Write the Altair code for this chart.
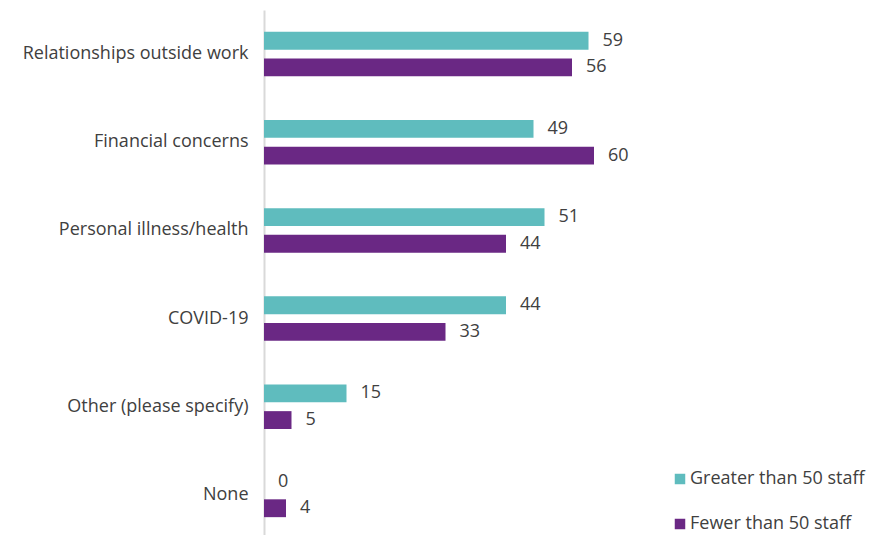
import altair as alt
import pandas as pd

categories = ["Relationships outside work", "Financial concerns", "Personal illness/health",
              "COVID-19\u00a0", "Other (please specify)", "None"]
series = ["Greater than 50 staff", "Fewer than 50 staff"]
greater = [59, 49, 51, 44, 15, 0]
fewer = [56, 60, 44, 33, 5, 4]
colors = ["#5fbcbe", "#6a2884"]

rows = []
for c, g, f in zip(categories, greater, fewer):
    rows.append({"cat": c, "series": series[0], "value": g})
    rows.append({"cat": c, "series": series[1], "value": f})
df = pd.DataFrame(rows)

FONT = "Open Sans"
TXT = "#404040"
FS = 18

y = alt.Y("cat:N", sort=categories, title=None,
          scale=alt.Scale(paddingInner=0, paddingOuter=0, range=[0, 529]),
          axis=alt.Axis(domainColor="#d9d9d9", domainWidth=2, ticks=False,
                        labelFontSize=FS, labelColor=TXT, labelFont=FONT,
                        labelPadding=16, labelLimit=300))
yoff = alt.YOffset("series:N", sort=series,
                   scale=alt.Scale(domain=series, paddingInner=0.33, paddingOuter=0.82))
x = alt.X("value:Q", scale=alt.Scale(domain=[0, 100]), axis=None)

bars = alt.Chart(df).mark_bar().encode(
    y=y, yOffset=yoff, x=x,
    color=alt.Color("series:N", sort=series,
                    scale=alt.Scale(domain=series, range=colors),
                    legend=alt.Legend(orient="none", legendX=407, legendY=460, title=None,
                                      symbolType="square", symbolSize=110,
                                      labelFontSize=FS, labelFont=FONT, labelColor=TXT,
                                      labelLimit=300,
                                      rowPadding=27, labelOffset=1, symbolStrokeWidth=0)),
)

labels = alt.Chart(df).mark_text(align="left", baseline="middle", dx=14, fontSize=FS,
                                 font=FONT, color=TXT).encode(
    y=y, yOffset=yoff, x=x, text=alt.Text("value:Q"))

chart = (bars + labels).properties(
    width=550, height=525,
    background="white",
    autosize=alt.AutoSizeParams(type="none"),
    padding={"left": 264, "top": 10, "right": 75, "bottom": 0},
).configure_view(stroke=None)

chart.save("out.html", embed_options={"renderer": "svg", "actions": False})
